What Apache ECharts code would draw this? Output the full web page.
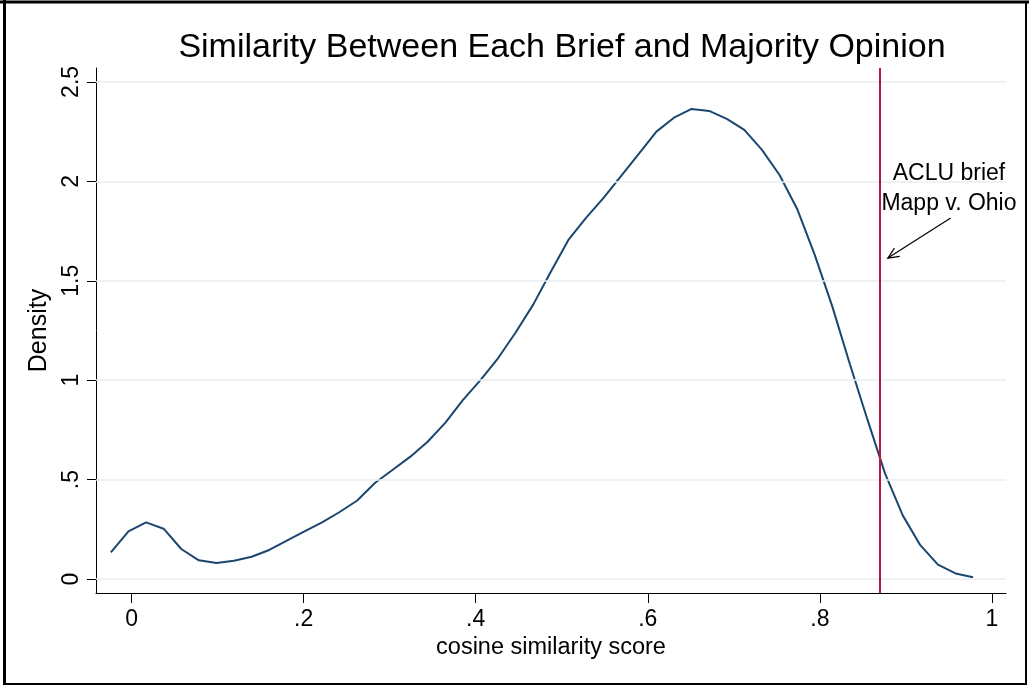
<!DOCTYPE html>
<html>
<head>
<meta charset="utf-8">
<script src="https://cdn.jsdelivr.net/npm/echarts@6/dist/echarts.min.js"></script>
<style>
html,body{margin:0;padding:0;background:#fff;}
#chart{width:1029px;height:685px;}
</style>
</head>
<body>
<div id="chart"></div>
<script>
// ---- data ----
const chartTitle = 'Similarity Between Each Brief and Majority Opinion';
const xAxisName = 'cosine similarity score';
const yAxisName = 'Density';
const xValues = [-0.024, -0.0036, 0.0169, 0.0373, 0.0578, 0.0782, 0.0987, 0.1191, 0.1396, 0.16,
  0.1805, 0.201, 0.2214, 0.2419, 0.2623, 0.2828, 0.3032, 0.3237, 0.3441, 0.3646,
  0.385, 0.4055, 0.4259, 0.4464, 0.4668, 0.4873, 0.5077, 0.5282, 0.5486, 0.5691,
  0.5895, 0.61, 0.6304, 0.6509, 0.6713, 0.6918, 0.7122, 0.7327, 0.7531, 0.7736,
  0.794, 0.8145, 0.8349, 0.8554, 0.8758, 0.8963, 0.9167, 0.9372, 0.9576, 0.978];
const densityValues = [0.134, 0.240, 0.285, 0.253, 0.151, 0.094, 0.080, 0.092, 0.112, 0.146,
  0.193, 0.240, 0.285, 0.337, 0.395, 0.483, 0.548, 0.614, 0.690, 0.785,
  0.900, 1.000, 1.110, 1.240, 1.380, 1.545, 1.705, 1.816, 1.917, 2.027,
  2.138, 2.250, 2.320, 2.364, 2.354, 2.314, 2.259, 2.158, 2.032, 1.861,
  1.630, 1.370, 1.080, 0.800, 0.530, 0.320, 0.170, 0.072, 0.028, 0.009];
const xTickValues = [0, 0.2, 0.4, 0.6, 0.8, 1];
const xTickLabels = ['0', '.2', '.4', '.6', '.8', '1'];
const yTickValues = [0, 0.5, 1, 1.5, 2, 2.5];
const yTickLabels = ['0', '.5', '1', '1.5', '2', '2.5'];
const xRange = [-0.0413, 1.0163];
const yRange = [-0.0704, 2.570];
const refLineX = 0.866;
const annotationLines = ['ACLU brief', 'Mapp v. Ohio'];
const annotationAnchor = [0.950, 1.962];
const arrowFrom = [0.952, 1.816];
const arrowTo = [0.879, 1.614];

// ---- chart ----
const FONT = '"Liberation Sans", Arial, Helvetica, sans-serif';
function lookup(vals, labels) {
  return function (v) {
    const i = vals.findIndex(t => Math.abs(t - v) < 1e-9);
    return i >= 0 ? labels[i] : '';
  };
}
const chart = echarts.init(document.getElementById('chart'), null, {renderer: 'canvas'});
const option = {
  animation: false,
  backgroundColor: '#fff',
  textStyle: {fontFamily: FONT},
  title: {
    text: chartTitle,
    left: 557, top: 26, textAlign: 'center',
    textStyle: {fontFamily: FONT, fontSize: 34, fontWeight: 'normal', color: '#000'}
  },
  grid: {left: 96, right: 23, top: 68, bottom: 92, containLabel: false},
  xAxis: {
    type: 'value', min: xRange[0], max: xRange[1],
    name: xAxisName, nameLocation: 'middle', nameGap: 40,
    nameTextStyle: {fontFamily: FONT, fontSize: 23.5, color: '#000'},
    axisLine: {show: true, onZero: false, lineStyle: {color: '#000', width: 1}},
    axisTick: {show: true, length: 10, customValues: xTickValues, lineStyle: {color: '#000', width: 1}},
    axisLabel: {customValues: xTickValues, formatter: lookup(xTickValues, xTickLabels),
      fontFamily: FONT, fontSize: 23, color: '#000', margin: 15},
    splitLine: {show: false}
  },
  yAxis: {
    type: 'value', min: yRange[0], max: yRange[1],
    name: yAxisName, nameLocation: 'middle', nameGap: 42, nameRotate: 90,
    nameTextStyle: {fontFamily: FONT, fontSize: 25, color: '#000'},
    axisLine: {show: true, onZero: false, lineStyle: {color: '#000', width: 1}},
    axisTick: {show: true, length: 9, customValues: yTickValues, lineStyle: {color: '#000', width: 1}},
    axisLabel: {customValues: yTickValues, formatter: lookup(yTickValues, yTickLabels), rotate: 90,
      fontFamily: FONT, fontSize: 23, color: '#000', margin: 13},
    splitLine: {show: false}
  },
  graphic: [
    {type: 'rect', z: 100, shape: {x: 4, y: 2, width: 1022, height: 682},
      style: {fill: null, stroke: '#000', lineWidth: 2}},
    {type: 'line', z: 100, shape: {x1: 4.5, y1: 0, x2: 4.5, y2: 685}, style: {stroke: '#000', lineWidth: 3}},
    {type: 'line', z: 100, shape: {x1: 0, y1: 2, x2: 1029, y2: 2}, style: {stroke: '#000', lineWidth: 3}}
  ],
  series: [
    {
      type: 'line', name: 'grid', data: [], z: 1, silent: true,
      markLine: {
        silent: true, symbol: ['none', 'none'], label: {show: false},
        lineStyle: {color: '#e8eef2', width: 1.5, type: 'solid'},
        data: yTickValues.map(v => ({yAxis: v}))
      }
    },
    {
      type: 'line', name: 'Density', z: 3,
      data: xValues.map((x, i) => [x, densityValues[i]]),
      showSymbol: false, smooth: false,
      lineStyle: {color: '#1a476f', width: 2},
      itemStyle: {color: '#1a476f'}
    },
    {
      type: 'line', name: 'ref', data: [], z: 4, silent: true,
      markLine: {
        silent: true, symbol: ['none', 'none'], label: {show: false},
        lineStyle: {color: '#c4163c', width: 2, type: 'solid'},
        data: [{xAxis: refLineX}]
      }
    },
    {
      type: 'custom', name: 'annotation', z: 5, silent: true,
      data: [[arrowFrom[0], arrowFrom[1]]],
      renderItem: function (params, api) {
        const a = api.coord(arrowFrom), b = api.coord(arrowTo), t = api.coord(annotationAnchor);
        const ang = Math.atan2(b[1] - a[1], b[0] - a[0]);
        const L = 12, s = 0.42;
        const p1 = [b[0] - L * Math.cos(ang - s), b[1] - L * Math.sin(ang - s)];
        const p2 = [b[0] - L * Math.cos(ang + s), b[1] - L * Math.sin(ang + s)];
        return {
          type: 'group',
          children: [
            {type: 'line', shape: {x1: a[0], y1: a[1], x2: b[0], y2: b[1]}, style: {stroke: '#000', lineWidth: 1.2}},
            {type: 'polyline', shape: {points: [p1, b, p2]}, style: {stroke: '#000', fill: null, lineWidth: 1.2}},
            {type: 'text', x: t[0], y: t[1], style: {text: annotationLines.join('\n'), align: 'center',
              verticalAlign: 'middle', fontSize: 23, lineHeight: 30, fill: '#000', fontFamily: FONT}}
          ]
        };
      }
    }
  ]
};
chart.setOption(option);
</script>
</body>
</html>
